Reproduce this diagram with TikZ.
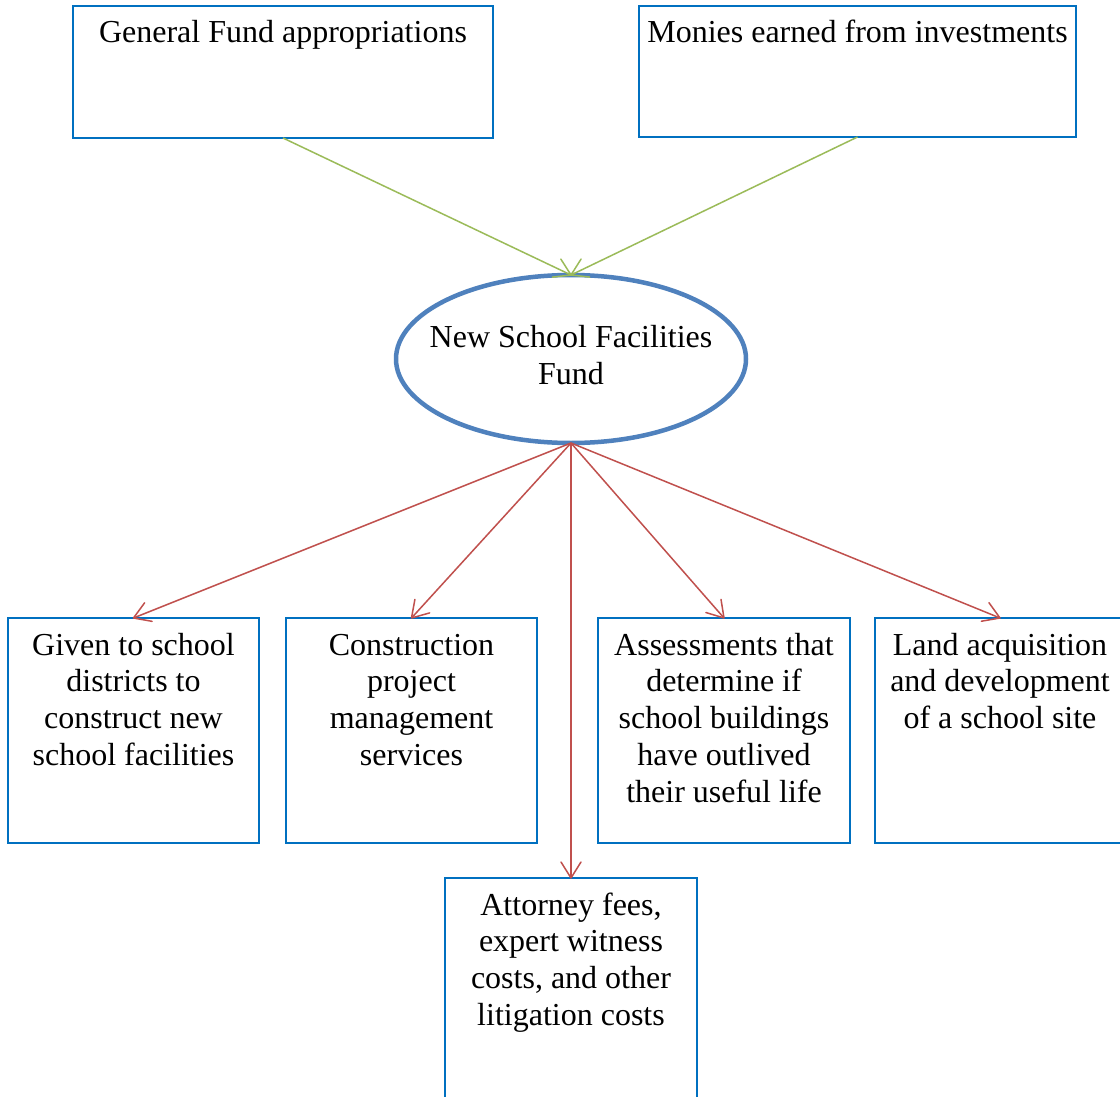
\documentclass[tikz,border=0pt]{standalone}
\usepackage{fontspec}
\setmainfont{Liberation Serif}
\usetikzlibrary{shapes.geometric,arrows.meta}
\definecolor{boxblue}{HTML}{0070C0}
\definecolor{ellblue}{HTML}{4F81BD}
\definecolor{agreen}{HTML}{9BBB59}
\definecolor{ared}{HTML}{C0504D}
\pgfdeclarearrow{
  name = OpenVee,
  setup code = {
    \pgfarrowssettipend{0pt}
    \pgfarrowssetlineend{-0.75pt}
    \pgfarrowssetbackend{-16pt}
    \pgfarrowssetvisualbackend{-16pt}
  },
  drawing code = {
    \pgfsetdash{}{0pt}
    \pgfsetroundjoin
    \pgfsetroundcap
    \pgfpathmoveto{\pgfqpoint{-16pt}{10pt}}
    \pgfpathlineto{\pgfqpoint{0pt}{0pt}}
    \pgfpathlineto{\pgfqpoint{-16pt}{-10pt}}
    \pgfusepathqstroke
  }
}
\newcommand\bxt[3]{\parbox[c][#2][t]{#1}{\centering\rule{0pt}{37pt}#3\par}}
\tikzset{
  fbox/.style={draw=boxblue, line width=2pt, inner sep=0pt, outer sep=0pt, anchor=north west, font=\fontsize{32}{36.8}\selectfont},
  fell/.style={ellipse, draw=ellblue, line width=4.5pt, minimum width=350pt, minimum height=168pt, inner sep=0pt, outer sep=0pt, font=\fontsize{32}{36.8}\selectfont},
  garrow/.style={draw=agreen, line width=1.5pt, -OpenVee},
  rarrow/.style={draw=ared, line width=1.5pt, -OpenVee}
}
\begin{document}
\begin{tikzpicture}[x=1pt,y=-1pt]
\useasboundingbox (0,0) rectangle (1120,1097);
\clip (0,0) rectangle (1120,1097);
\fill[white] (0,0) rectangle (1120,1097);
\node[fbox] (gf) at (73,6) {\bxt{420pt}{132pt}{General Fund appropriations}};
\node[fbox] (mi) at (639,6) {\bxt{437pt}{131pt}{Monies earned from investments}};
\node[fell] (nsf) at (571,359) {\makebox[0pt]{\parbox{320pt}{\centering New School Facilities\\Fund\par\vspace{8pt}}}};
\node[fbox] (b1) at (8,618) {\bxt{251pt}{225pt}{Given to school\\districts to\\construct new\\school facilities}};
\node[fbox] (b2) at (286,618) {\bxt{251pt}{225pt}{Construction\\project\\management\\services}};
\node[fbox] (b3) at (598,618) {\bxt{252pt}{225pt}{Assessments that\\determine if\\school buildings\\have outlived\\their useful life}};
\node[fbox] (b4) at (875,618) {\bxt{250pt}{225pt}{Land acquisition\\and development\\of a school site}};
\node[fbox] (b5) at (445,878) {\bxt{252pt}{240pt}{Attorney fees,\\expert witness\\costs, and other\\litigation costs}};
\draw[garrow] (gf.south) -- (nsf.north);
\draw[garrow] (mi.south) -- (nsf.north);
\draw[rarrow] (nsf.south) -- (b1.north);
\draw[rarrow] (nsf.south) -- (b2.north);
\draw[rarrow] (nsf.south) -- (b5.north);
\draw[rarrow] (nsf.south) -- (b3.north);
\draw[rarrow] (nsf.south) -- (b4.north);
\end{tikzpicture}
\end{document}
